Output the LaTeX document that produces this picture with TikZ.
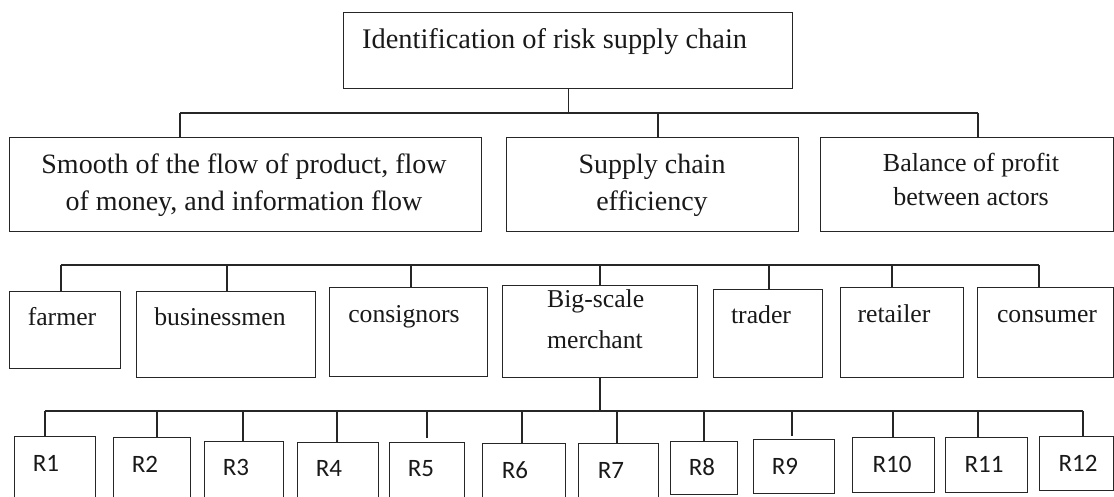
\documentclass[tikz,border=0pt]{standalone}
\usepackage{fontspec}
\setmainfont{Liberation Serif}
\newfontfamily\rfont{Carlito}
\begin{document}
\begin{tikzpicture}[x=1pt,y=-1pt,
  bx/.style={draw=black!85, line width=1.2pt, inner sep=0pt, anchor=north west},
  ln/.style={draw=black!85, line width=1.2pt},
  tx/.style={inner sep=0pt, text=black!90},
  fA/.style={tx, font=\fontsize{28.4}{34}\selectfont},
  fB/.style={tx, anchor=base, font=\fontsize{28}{34}\selectfont},
  fC/.style={tx, anchor=base, font=\fontsize{26}{30}\selectfont},
  fD/.style={tx, font=\fontsize{25.7}{30}\selectfont},
  fR/.style={tx, anchor=base, font=\rfont\fontsize{25}{30}\selectfont}]
\useasboundingbox (0,0) rectangle (1114,496);

% ---- level 1
\node[bx, minimum width=449pt, minimum height=76pt] (top) at (343,12) {};
\node[fA, anchor=base west] (ttop) at (362,48) {Identification of risk supply chain};

% ---- level 2
\node[bx, minimum width=472pt, minimum height=94pt] (L2a) at (9,137) {};
\node[bx, minimum width=292pt, minimum height=94pt] (L2b) at (506,137) {};
\node[bx, minimum width=293pt, minimum height=94pt] (L2c) at (820,137) {};
\node[fB] (ta1) at (244,173) {Smooth of the flow of product, flow};
\node[fB] (ta2) at (244,210) {of money, and information flow};
\node[fB] (tb1) at (652,173) {Supply chain};
\node[fB] (tb2) at (652,210) {efficiency};
\node[fC] (tc1) at (971,171) {Balance of profit};
\node[fC] (tc2) at (971,205) {between actors};

\coordinate (bus2L) at (180,113);
\coordinate (bus2M) at (658,113);
\coordinate (bus2R) at (978,113);
\draw[ln] (top.south) -- (top.south |- bus2L);
\draw[ln] (bus2L) -- (bus2R);
\draw[ln] (bus2L) -- (bus2L |- L2a.north);
\draw[ln] (bus2M) -- (bus2M |- L2b.north);
\draw[ln] (bus2R) -- (bus2R |- L2c.north);

% ---- level 3
\node[bx, minimum width=111pt, minimum height=77pt] (farmer) at (9,291) {};
\node[bx, minimum width=179pt, minimum height=86pt] (business) at (136,291) {};
\node[bx, minimum width=158pt, minimum height=89pt] (consign) at (329,287) {};
\node[bx, minimum width=195pt, minimum height=92pt] (big) at (502,285) {};
\node[bx, minimum width=109pt, minimum height=88pt] (trader) at (713,289) {};
\node[bx, minimum width=123pt, minimum height=90pt] (retailer) at (840,287) {};
\node[bx, minimum width=136pt, minimum height=90pt] (consumer) at (977,287) {};

\node[fD, anchor=base] (tfarmer) at (62,325) {farmer};
\node[fD, anchor=base] (tbusiness) at (220,325) {businessmen};
\node[fD, anchor=base] (tconsign) at (404,322) {consignors};
\node[fD, anchor=base west] (tbig1) at (547,307) {Big-scale};
\node[fD, anchor=base west] (tbig2) at (547,348) {merchant};
\node[fD, anchor=base] (ttrader) at (761,323) {trader};
\node[fD, anchor=base] (tretailer) at (894,322) {retailer};
\node[fD, anchor=base] (tconsumer) at (1047,322) {consumer};

\draw[ln] (61,265) coordinate (bus3L) -- (1039,265) coordinate (bus3R);
\foreach \x/\n in {61/farmer,227/business,411/consign,600/big,769/trader,892/retailer,1039/consumer}{
  \coordinate (c\n) at (\x,265);
  \draw[ln] (c\n) -- (c\n |- \n.north);
}

% ---- level 4
\foreach \n/\x/\y/\w/\h in {R1/14/436/81/70, R2/113/437/77/69, R3/204/441/79/65, R4/297/442/81/64,
  R5/389/442/75/64, R6/482/443/83/63, R7/578/443/80/63, R8/670/441/67/53,
  R9/753/439/81/54, R10/852/437/82/55, R11/945/437/82/55, R12/1039/436/74/54}{
  \node[bx, minimum width=\w pt, minimum height=\h pt] (\n) at (\x,\y) {};
}
\foreach \n/\x/\y in {R1/46/471, R2/145/472, R3/236/475, R4/329/476, R5/421/476, R6/515/478,
  R7/611/478, R8/702/475, R9/785/474, R10/892/472, R11/984/472, R12/1078/471}{
  \node[fR] (t\n) at (\x,\y) {\n};
}

\coordinate (d4) at (600,411);
\draw[ln] (d4 |- big.south) -- (d4);
\draw[ln] (45,411) coordinate (bus4L) -- (1083,411) coordinate (bus4R);
\foreach \n/\x/\s in {R1/45/0, R2/157/0, R3/243/0, R4/337/0, R5/427/4, R6/522/0,
  R7/617/0, R8/704/0, R9/792/3, R10/893/0, R11/978/0, R12/1083/0}{
  \coordinate (e\n) at (\x,411);
  \draw[ln, shorten >=\s pt] (e\n) -- (e\n |- \n.north);
}
\end{tikzpicture}
\end{document}
